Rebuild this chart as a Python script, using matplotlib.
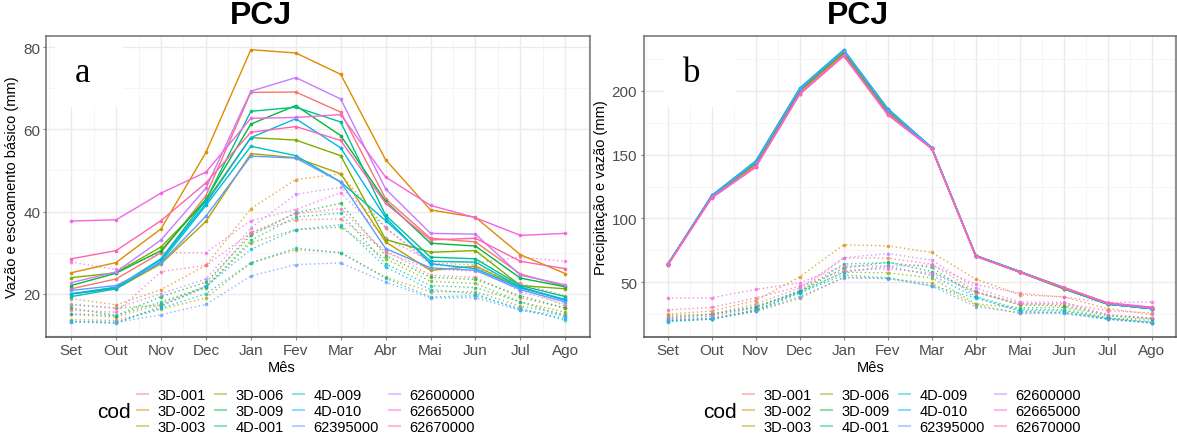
import matplotlib.pyplot as plt
from matplotlib.lines import Line2D
from matplotlib.patches import Rectangle
from matplotlib.ticker import MultipleLocator

# Months (hydrological year, Sep -> Aug)
meses = ["Set", "Out", "Nov", "Dec", "Jan", "Fev", "Mar", "Abr", "Mai", "Jun", "Jul", "Ago"]

# Stations
cods = ["3D-001", "3D-002", "3D-003", "3D-006", "3D-009", "4D-001",
        "4D-009", "4D-010", "62395000", "62600000", "62665000", "62670000"]

# ggplot default hue palette for 12 levels
cores = ["#F8766D", "#DE8C00", "#B79F00", "#7CAE00", "#00BA38", "#00C08B",
         "#00BFC4", "#00B4F0", "#619CFF", "#C77CFF", "#F564E3", "#FF64B0"]

# Vazao (mm) per station
vazao = {
    "3D-001":   [21.2, 23.6, 30.0, 43.9, 69.0, 69.1, 64.2, 43.1, 33.5, 32.6, 24.8, 21.8],
    "3D-002":   [25.1, 27.6, 35.8, 54.4, 79.4, 78.6, 73.4, 52.6, 40.4, 38.6, 29.5, 24.9],
    "3D-003":   [20.0, 21.2, 27.3, 37.6, 54.1, 53.1, 49.2, 32.6, 25.7, 26.7, 21.6, 18.5],
    "3D-006":   [23.9, 25.1, 31.4, 42.5, 58.0, 57.4, 53.6, 33.2, 30.1, 30.5, 22.0, 21.2],
    "3D-009":   [22.0, 25.0, 30.5, 43.0, 61.3, 65.8, 58.5, 42.5, 32.3, 31.6, 23.8, 21.7],
    "4D-001":   [19.9, 21.5, 28.5, 42.8, 64.4, 65.4, 61.8, 39.1, 28.9, 28.5, 22.0, 19.3],
    "4D-009":   [19.3, 21.2, 27.8, 41.5, 55.9, 53.6, 47.2, 37.8, 27.9, 27.7, 21.6, 18.4],
    "4D-010":   [20.0, 21.6, 28.3, 42.0, 58.0, 62.6, 55.5, 38.5, 27.3, 26.1, 21.4, 18.6],
    "62395000": [20.8, 22.0, 27.5, 38.9, 53.5, 53.0, 47.2, 31.0, 26.3, 25.7, 21.0, 18.0],
    "62600000": [22.7, 25.3, 33.1, 45.7, 69.3, 72.6, 67.4, 45.5, 34.7, 34.5, 24.5, 22.2],
    "62665000": [37.7, 38.0, 44.5, 49.6, 62.7, 62.9, 63.6, 48.4, 41.5, 38.5, 34.2, 34.7],
    "62670000": [28.5, 30.5, 37.8, 47.0, 59.3, 60.7, 57.3, 42.0, 33.1, 33.5, 27.9, 26.1],
}

# Escoamento basico (mm) per station
base = {
    "3D-001":   [15.0, 14.3, 17.5, 22.0, 35.0, 38.0, 38.2, 30.5, 24.5, 24.0, 19.0, 16.5],
    "3D-002":   [18.8, 17.3, 21.0, 26.9, 40.7, 47.8, 49.2, 36.0, 27.5, 27.0, 21.5, 17.0],
    "3D-003":   [13.7, 13.5, 16.2, 19.0, 27.5, 30.7, 30.0, 24.0, 20.5, 20.5, 17.0, 15.0],
    "3D-006":   [17.3, 16.5, 17.2, 21.5, 32.4, 35.6, 36.2, 28.5, 23.0, 22.5, 18.0, 15.5],
    "3D-009":   [16.5, 14.7, 19.3, 22.8, 34.2, 39.7, 42.0, 29.3, 24.0, 23.5, 19.5, 16.5],
    "4D-001":   [15.1, 14.7, 18.0, 21.6, 33.0, 38.7, 39.6, 27.3, 22.0, 21.5, 18.0, 14.5],
    "4D-009":   [13.3, 13.0, 16.5, 20.0, 27.5, 31.1, 30.0, 23.8, 19.2, 19.5, 16.5, 13.5],
    "4D-010":   [13.2, 12.8, 17.0, 21.8, 30.8, 35.6, 36.8, 26.5, 21.0, 20.0, 16.0, 14.0],
    "62395000": [13.2, 13.0, 14.9, 17.4, 24.3, 27.1, 27.5, 22.8, 19.0, 19.0, 16.0, 14.7],
    "62600000": [17.5, 16.5, 20.0, 23.6, 36.0, 44.2, 45.9, 36.2, 27.0, 26.5, 20.5, 17.5],
    "62665000": [27.7, 25.9, 30.0, 30.0, 37.8, 40.5, 44.6, 33.5, 28.0, 27.5, 28.9, 27.9],
    "62670000": [16.0, 15.5, 25.4, 26.9, 34.8, 39.5, 40.7, 30.0, 26.0, 25.5, 22.5, 19.5],
}

# Precipitacao (mm) per station
precip = {
    "3D-001":   [64.0, 117.0, 142.0, 199.0, 229.0, 183.0, 155.0, 70.5, 58.5, 45.5, 33.5, 30.0],
    "3D-002":   [64.0, 117.0, 142.5, 199.5, 229.0, 183.0, 155.0, 70.5, 58.5, 45.5, 33.5, 30.0],
    "3D-003":   [64.0, 117.0, 143.0, 200.0, 230.0, 184.0, 155.0, 70.5, 58.0, 45.0, 33.0, 29.5],
    "3D-006":   [64.0, 117.5, 143.0, 200.0, 230.0, 184.0, 155.0, 70.5, 58.0, 45.0, 33.0, 29.5],
    "3D-009":   [64.0, 117.5, 143.5, 200.5, 230.5, 184.5, 155.0, 71.0, 58.0, 45.0, 33.0, 29.5],
    "4D-001":   [64.0, 117.5, 144.0, 201.0, 231.0, 185.0, 155.0, 71.0, 58.5, 45.5, 33.0, 29.5],
    "4D-009":   [64.0, 118.0, 145.0, 202.0, 232.0, 186.0, 155.5, 71.0, 58.5, 46.0, 33.0, 29.5],
    "4D-010":   [64.0, 118.0, 144.5, 201.5, 231.5, 185.5, 155.5, 71.0, 58.5, 46.0, 33.0, 29.5],
    "62395000": [64.0, 117.5, 144.0, 201.0, 231.0, 185.0, 155.0, 71.0, 58.5, 46.0, 33.5, 30.0],
    "62600000": [63.5, 116.0, 140.5, 197.5, 227.5, 181.5, 155.0, 70.5, 58.0, 45.5, 33.5, 30.0],
    "62665000": [63.5, 116.0, 140.0, 197.0, 227.0, 181.0, 154.5, 70.5, 58.0, 46.0, 34.0, 30.5],
    "62670000": [63.5, 116.5, 140.5, 197.5, 227.5, 181.5, 154.5, 70.5, 58.0, 46.0, 34.0, 30.5],
}

W, H = 1177, 439
plt.rcParams['font.family'] = ['Liberation Sans', 'DejaVu Sans']
fig = plt.figure(figsize=(W / 100, H / 100), dpi=100)


def px_axes(left, right, top, bottom):
    return fig.add_axes([left / W, 1 - bottom / H, (right - left) / W, (bottom - top) / H])


def style(ax, ylabel, ymaj, ymin):
    x = range(len(meses))
    ax.set_xticks(list(x))
    ax.set_xticklabels(meses)
    ax.set_xlim(-0.55, len(meses) - 0.45)
    ax.xaxis.set_minor_locator(MultipleLocator(0.5))
    ax.yaxis.set_major_locator(MultipleLocator(ymaj))
    ax.yaxis.set_minor_locator(MultipleLocator(ymin))
    ax.grid(which='major', color='#EBEBEB', lw=1.0)
    ax.grid(which='minor', color='#F4F4F4', lw=0.6)
    ax.set_axisbelow(True)
    ax.tick_params(which='major', length=2.5, width=0.8, color='#888888',
                   labelsize=11, labelcolor='#4D4D4D', pad=2)
    ax.tick_params(which='minor', length=0)
    for s in ax.spines.values():
        s.set_color('#707070')
        s.set_linewidth(1.1)
    ax.spines['bottom'].set_color('#4A4A4A')
    ax.set_ylabel(ylabel, fontsize=10.5, labelpad=3)


x = list(range(len(meses)))

# Panel a: vazao (solid) and escoamento basico (dotted)
ax1 = px_axes(46.5, 590, 37, 338)
for c, cor in zip(cods, cores):
    ax1.plot(x, base[c], ls=(0, (1, 2)), lw=1.0, color=cor, alpha=0.75,
             marker='o', ms=2.6, mew=0)
for c, cor in zip(cods, cores):
    ax1.plot(x, vazao[c], ls='-', lw=1.0, color=cor,
             marker='o', ms=2.6, mew=0)
style(ax1, "Vazão e escoamento básico (mm)", 20, 10)

# Panel b: precipitacao (solid) and vazao (dotted)
ax2 = px_axes(643.5, 1176, 37, 338)
for c, cor in zip(cods, cores):
    ax2.plot(x, vazao[c], ls=(0, (1, 2)), lw=1.0, color=cor, alpha=0.75,
             marker='o', ms=2.6, mew=0)
for c, cor in zip(cods, cores):
    ax2.plot(x, precip[c], ls='-', lw=1.0, color=cor,
             marker='o', ms=2.6, mew=0)
style(ax2, "Precipitação e vazão (mm)", 50, 25)

# Titles, x labels, panel letters and legends
for tx, mx, lx, box, legx, codx in [(261, 282, 82, (55, 123), 137, 114),
                                    (858, 871, 692, (664, 736), 743, 720)]:
    fig.text(tx / W, 1 - 16 / H, "PCJ", fontsize=23, fontweight='bold',
             ha='center', va='center')
    fig.text(mx / W, 1 - 368 / H, "Mês", fontsize=10.5, ha='center', va='center')
    fig.add_artist(Rectangle((box[0] / W, 1 - 108 / H), (box[1] - box[0]) / W, 70 / H,
                             transform=fig.transFigure, facecolor='white',
                             edgecolor='none', zorder=3))
    fig.text(lx / W, 1 - 74 / H, "a" if lx < 500 else "b", fontsize=25,
             family='Liberation Serif', ha='center', va='center', zorder=4)
    fig.text(codx / W, 1 - 413 / H, "cod", fontsize=15, ha='center', va='center')
    handles = [Line2D([0], [0], color=cor, lw=1.5, alpha=0.45) for cor in cores]
    fig.legend(handles, cods, loc='upper left', ncol=4,
               bbox_to_anchor=(legx / W, 1 - 389 / H), frameon=False,
               fontsize=10.5, handlelength=0.75, handletextpad=0.65,
               columnspacing=0.65, labelspacing=0.15, borderpad=0,
               borderaxespad=0)

fig.savefig("out.png", dpi=100)
